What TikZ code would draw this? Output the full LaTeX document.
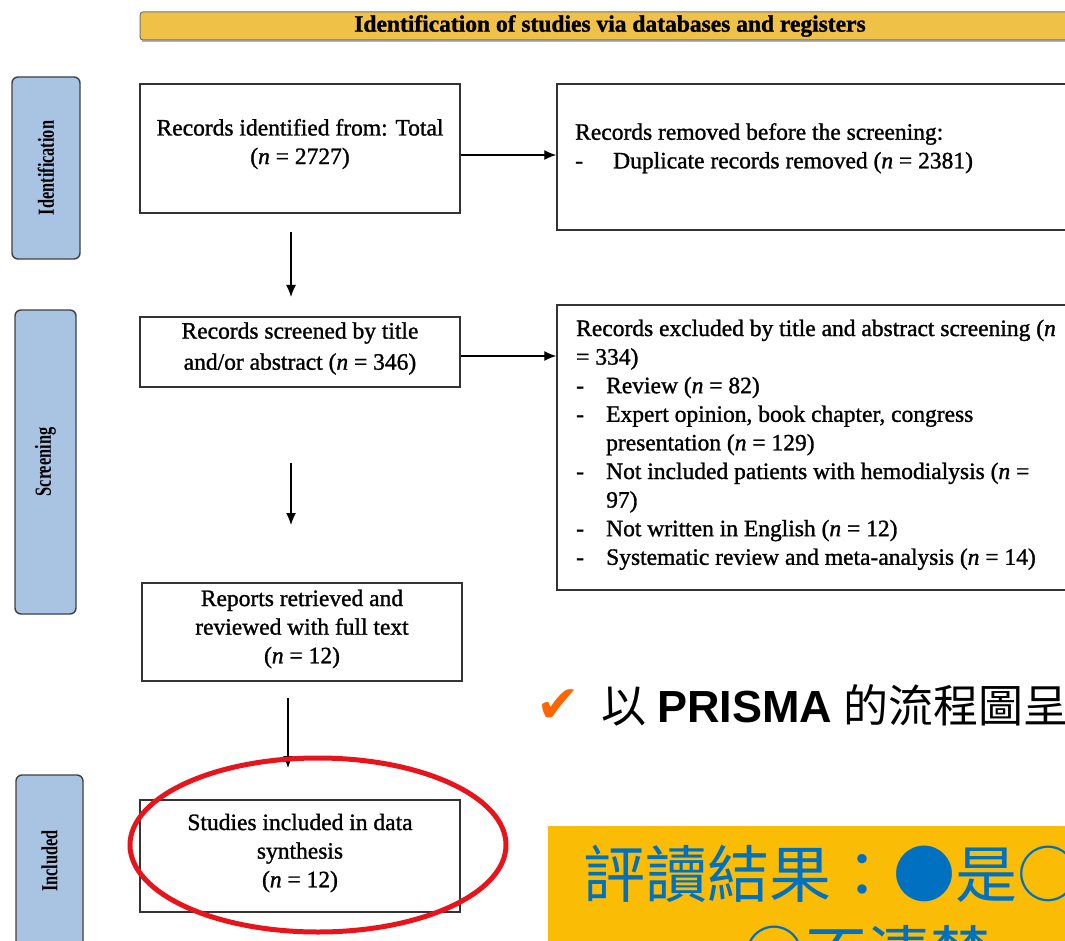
\documentclass[tikz,border=0pt]{standalone}
\usepackage{fontspec}
\setmainfont{Liberation Serif}[FakeBold=1.2]
\newfontfamily\condfont{Liberation Serif}[FakeStretch=0.71]
\newfontfamily\cjkfont{Noto Sans CJK TC}
\newfontfamily\arialfont{Liberation Sans}
\newfontfamily\symfont{DejaVu Sans}
\usetikzlibrary{arrows.meta,shapes.geometric}
\definecolor{bannerfill}{RGB}{239,193,70}
\definecolor{phasefill}{RGB}{169,195,227}
\definecolor{hlred}{RGB}{232,20,28}
\definecolor{chkorange}{RGB}{255,102,0}
\definecolor{notefill}{RGB}{250,188,5}
\definecolor{noteblue}{RGB}{0,112,192}
\tikzset{
  box/.style={draw=black!80, line width=1.5pt, fill=white, inner sep=0pt},
  phase/.style={draw=black!75, fill=phasefill, line width=1.4pt, rounded corners=6pt, inner sep=0pt,
    font=\condfont\bfseries\fontsize{23}{23}\selectfont},
  arr/.style={-{Latex[length=12pt,width=10pt]}, line width=1.3pt},
  body/.style={font=\fontsize{23.5}{28.6}\selectfont, align=center, inner sep=0pt},
  bodyl/.style={font=\fontsize{23.5}{28.6}\selectfont, align=left, inner sep=0pt, anchor=north west},
}
\begin{document}
\begin{tikzpicture}[x=1pt,y=-1pt]
\useasboundingbox (0,0) rectangle (1065,941);
\clip (0,0) rectangle (1065,941);
\fill[white] (0,0) rectangle (1065,941);

% banner
\fill[black!30] (142,15) rectangle (1090,42);
\node[draw=black!55, fill=bannerfill, line width=1pt, rounded corners=3pt,
      minimum width=940, minimum height=28, inner sep=0pt,
      font=\bfseries\fontsize{23.5}{23.5}\selectfont] (banner) at (610,26)
      {Identification of studies via databases and registers};

% phase labels
\node[phase, minimum width=68, minimum height=182] (pid) at (46,168) {\rotatebox{90}{Identification}};
\node[phase, minimum width=61, minimum height=304] (psc) at (45.5,462) {\rotatebox{90}{Screening}};
\node[phase, minimum width=67, minimum height=172] (pin) at (49.5,861) {\rotatebox{90}{Included}};

% boxes
\node[box, minimum width=320, minimum height=129] (b1) at (300,148.5) {};
\node[body] (t1) at (300,144) {Records identified from: Total\\(\textit{n} = 2727)};
\node[box, minimum width=523, minimum height=146] (b2) at (818.5,157) {};
\node[bodyl] (t2) at (575,123)
  {Records removed before the screening:\\
   \makebox[38pt][l]{-}Duplicate records removed (\textit{n} = 2381)};

\node[box, minimum width=320, minimum height=70] (b3) at (300,352) {};
\node[body] (t3) at (300,348.5) {Records screened by title\\[2.5pt]and/or abstract (\textit{n} = 346)};
\node[box, minimum width=523, minimum height=285] (b4) at (818.5,447.5) {};
\node[bodyl] (t4) at (576,319.5)
  {Records excluded by title and abstract screening (\textit{n}\\
   = 334)\\
   \makebox[30pt][l]{-}Review (\textit{n} = 82)\\
   \makebox[30pt][l]{-}Expert opinion, book chapter, congress\\
   \hspace*{30pt}presentation (\textit{n} = 129)\\
   \makebox[30pt][l]{-}Not included patients with hemodialysis (\textit{n} =\\
   \hspace*{30pt}97)\\
   \makebox[30pt][l]{-}Not written in English (\textit{n} = 12)\\
   \makebox[30pt][l]{-}Systematic review and meta-analysis (\textit{n} = 14)};

\node[box, minimum width=320, minimum height=98] (b5) at (302,632) {};
\node[body] (t5) at (302,629) {Reports retrieved and\\reviewed with full text\\(\textit{n} = 12)};
\node[box, minimum width=320, minimum height=112] (b6) at (300,856) {};
\node[body] (t6) at (300,853) {Studies included in data\\synthesis\\(\textit{n} = 12)};

% connectors
\draw[arr] (b1.east |- 0,155) -- (b2.west |- 0,155);
\draw[arr] (b3.east |- 0,356) -- (b4.west |- 0,356);
\coordinate (d1s) at (291,232); \coordinate (d1e) at (291,297);
\coordinate (d2s) at (291,463); \coordinate (d2e) at (291,525);
\coordinate (d3s) at (288,698); \coordinate (d3e) at (288,768);
\draw[arr] (d1s) -- (d1e);
\draw[arr] (d2s) -- (d2e);
\draw[arr] (d3s) -- (d3e);

% highlight ellipse
\node[ellipse, draw=hlred, line width=5pt, minimum width=376, minimum height=174, inner sep=0pt] (hl) at (318,845) {};

% check line
\node[anchor=base west, inner sep=0pt, text=chkorange, font=\symfont\fontsize{52}{52}\selectfont] (chk) at (536,722) {✔};
\node[anchor=base west, inner sep=0pt, font=\fontsize{45}{45}\selectfont] (prisma) at (601,722)
  {{\cjkfont 以} {\arialfont\bfseries PRISMA} {\cjkfont 的流程圖呈現}};

% yellow note
\node[fill=notefill, minimum width=532, minimum height=140, inner sep=0pt] (note) at (814,896) {};
\node[anchor=base, inner sep=0pt, text=noteblue, font=\cjkfont\fontsize{62}{62}\selectfont] (n1) at (862,897) {評讀結果：●是○否};
\node[anchor=base, inner sep=0pt, text=noteblue, font=\cjkfont\fontsize{62}{62}\selectfont] (n2) at (867,977) {○不清楚};
\end{tikzpicture}
\end{document}
